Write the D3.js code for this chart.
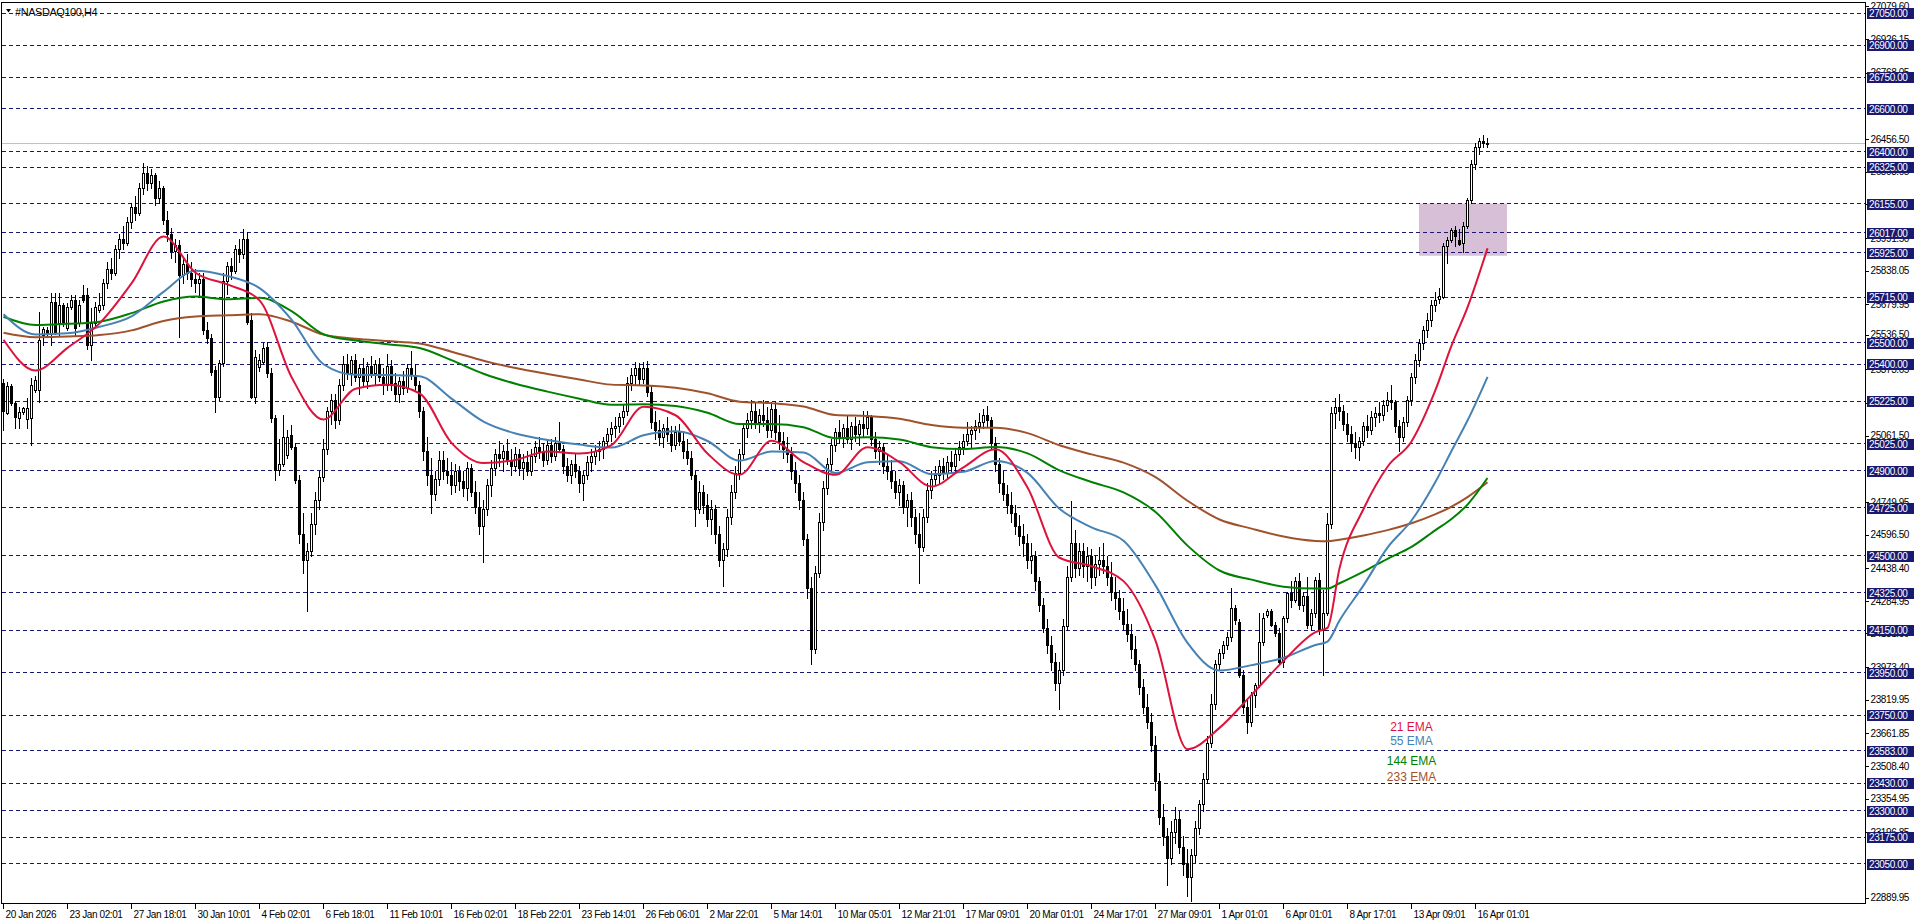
<!DOCTYPE html>
<html>
<head>
<meta charset="utf-8">
<title>#NASDAQ100,H4</title>
<script src="https://cdn.jsdelivr.net/npm/d3@7/dist/d3.min.js"></script>
<style>
html,body{margin:0;padding:0;background:#fff;overflow:hidden;}
svg{display:block;}
text{font-family:"Liberation Sans",Arial,sans-serif;}
</style>
</head>
<body>
<svg id="chart" width="1916" height="923"></svg>
<script>
// ---------------- DATA ----------------
const chartTitle = "#NASDAQ100,H4";

const opens = [
25310,25170,25298,25219,25146,25177,25141,25145,25280,25279,
25537,25560,25545,25691,25592,25678,25570,25668,25702,25592,
25725,25725,25490,25592,25655,25678,25780,25850,25830,25940,
25990,25970,26070,26140,26110,26230,26300,26250,26290,26180,
26230,26080,26010,25930,25960,25820,25870,25830,25800,25780,
25800,25561,25522,25373,25248,25404,25790,25860,25840,25940,
25920,25990,25608,25248,25385,25412,25483,25357,25146,24903,
24930,24975,25067,25012,24856,24600,24480,24520,24650,24760,
24870,25000,25180,25230,25140,25300,25400,25360,25420,25340,
25380,25320,25390,25360,25400,25340,25300,25390,25310,25260,
25320,25290,25380,25350,25300,25180,24990,24880,24790,24860,
24950,24900,24880,24830,24900,24850,24820,24910,24800,24730,
24640,24720,24830,24910,24980,24960,24990,24950,24920,24980,
24910,24940,24900,24970,25010,24990,24950,25020,24970,25030,
25000,24920,24880,24930,24900,24840,24880,24940,24970,24990,
25000,25040,25070,25100,25110,25150,25180,25310,25350,25380,
25330,25380,25270,25130,25090,25060,25100,25070,25020,25080,
25040,24990,24960,24880,24720,24800,24740,24670,24720,24600,
24480,24530,24680,24800,24890,24980,25100,25140,25180,25130,
25160,25140,25090,25190,25080,25040,25000,24980,24900,24840,
24760,24580,24350,24060,24420,24660,24820,24930,25020,25080,
25060,25100,25050,25110,25070,25120,25100,25150,25050,24990,
25010,24920,24900,24850,24800,24830,24730,24760,24680,24600,
24540,24680,24810,24860,24880,24920,24890,24940,24920,24980,
25010,25040,25070,25090,25110,25130,25160,25140,25030,24930,
24840,24790,24740,24700,24640,24590,24560,24480,24500,24380,
24270,24160,24080,24000,23900,23960,24170,24400,24560,24440,
24520,24450,24500,24400,24460,24480,24450,24400,24330,24300,
24240,24180,24130,24060,23990,23880,23790,23720,23610,23440,
23270,23180,23080,23200,23260,23130,23050,22990,23090,23220,
23330,23450,23620,23800,23990,24040,24080,24119,24252,24190,
23939,23790,23720,23845,23892,24096,24220,24240,24174,24135,
24000,24205,24323,24290,24380,24270,24310,24174,24230,24386,
24150,24230,24650,25170,25200,25180,25120,25070,25030,25010,
25040,25110,25090,25150,25170,25160,25210,25230,25220,25110,
25060,25130,25230,25340,25420,25500,25560,25610,25680,25705,
25718,25956,25984,26031,25984,25968,26050,26172,26340,26420,
26450,26440
];
const highs = [
25330,25318,25305,25225,25200,25200,25240,25334,25345,25647,
25577,25575,25733,25733,25733,25690,25686,25725,25725,25700,
25772,25760,25663,25694,25733,25800,25880,25900,25960,26010,
26050,26090,26160,26190,26250,26348,26330,26320,26300,26260,
26240,26120,26040,25990,25985,25900,25920,25880,25850,25830,
25830,25600,25540,25390,25420,25830,25880,25900,25960,25990,
26035,26020,25640,25467,25450,25500,25506,25380,25160,25050,
25161,25090,25114,25030,24880,24700,24560,24700,24800,24900,
25050,25200,25260,25260,25330,25440,25450,25440,25450,25400,
25430,25410,25440,25420,25430,25380,25450,25420,25360,25340,
25370,25400,25460,25400,25320,25200,25060,24960,24900,24990,
24990,24960,24940,24930,24920,24900,24940,24930,24850,24800,
24760,24860,24950,25000,25040,25020,25050,25000,25010,25000,
24980,24990,25000,25040,25060,25030,25040,25050,25060,25130,
25020,24960,24950,24980,24920,24900,24970,25000,25020,25040,
25060,25100,25130,25150,25170,25210,25340,25380,25410,25405,
25410,25415,25300,25180,25140,25120,25150,25110,25110,25120,
25080,25050,24990,24900,24850,24830,24790,24760,24740,24640,
24560,24720,24830,24920,25000,25120,25170,25230,25220,25190,
25230,25200,25220,25220,25160,25080,25060,25010,24940,24880,
24800,24600,24400,24450,24700,24850,24960,25050,25100,25140,
25120,25160,25130,25150,25140,25180,25180,25160,25080,25040,
25030,24980,24950,24900,24860,24850,24790,24800,24720,24700,
24720,24840,24900,24920,24950,24960,24970,24990,25000,25040,
25070,25130,25110,25140,25170,25190,25205,25150,25060,24960,
24900,24830,24800,24740,24690,24650,24600,24560,24520,24400,
24300,24200,24120,24040,24000,24200,24450,24757,24620,24560,
24560,24540,24530,24500,24540,24560,24500,24470,24400,24340,
24300,24250,24180,24120,24010,23920,23850,23760,23650,23480,
23330,23220,23250,23320,23300,23180,23120,23120,23250,23350,
23480,23650,23850,24010,24060,24100,24140,24347,24270,24200,
23960,23830,23860,23900,24230,24230,24250,24250,24190,24160,
24215,24330,24380,24400,24420,24330,24400,24250,24400,24420,
24340,24700,25200,25240,25260,25210,25170,25110,25080,25060,
25130,25160,25180,25200,25220,25230,25270,25300,25230,25140,
25150,25250,25360,25450,25520,25580,25640,25700,25740,25758,
25968,26000,26039,26050,26034,26069,26180,26360,26440,26465,
26480,26465
];
const lows = [
25090,25165,25210,25099,25099,25165,25100,25020,25270,25224,
25490,25530,25490,25540,25537,25580,25560,25660,25537,25580,
25694,25470,25420,25580,25647,25660,25760,25800,25820,25900,
25940,25960,26040,26080,26100,26200,26220,26230,26150,26160,
26060,25980,25900,25880,25530,25780,25800,25770,25740,25720,
25540,25500,25350,25177,25230,25390,25730,25800,25830,25880,
25900,25590,25240,25216,25370,25400,25340,25130,24856,24880,
24920,24960,25000,24840,24560,24420,24240,24500,24600,24720,
24850,24980,25120,25100,25120,25280,25330,25300,25320,25260,
25300,25290,25340,25300,25320,25260,25280,25280,25230,25220,
25260,25270,25330,25280,25150,24950,24830,24700,24760,24830,
24860,24840,24790,24800,24810,24780,24760,24780,24700,24600,
24470,24690,24780,24880,24920,24900,24930,24880,24900,24880,
24860,24880,24880,24940,24960,24920,24930,24940,24950,24990,
24890,24850,24840,24870,24800,24760,24860,24900,24930,24950,
24960,25010,25040,25060,25080,25120,25160,25280,25300,25300,
25310,25250,25100,25050,25020,25010,25040,24990,25000,25020,
24960,24930,24860,24640,24700,24700,24640,24600,24560,24450,
24355,24500,24650,24770,24860,24960,25060,25100,25100,25080,
25110,25060,25060,25050,25000,24960,24940,24860,24800,24720,
24550,24300,23990,24040,24400,24620,24790,24900,24990,25030,
25010,25030,25000,25040,25020,25060,25070,25020,24960,24930,
24890,24860,24820,24770,24740,24700,24640,24640,24560,24370,
24520,24660,24770,24830,24840,24860,24870,24890,24900,24950,
24980,25020,25010,25050,25080,25100,25110,25000,24900,24800,
24760,24700,24660,24600,24550,24500,24440,24420,24340,24240,
24140,24040,23960,23870,23780,23940,24150,24380,24400,24410,
24400,24380,24350,24360,24410,24420,24360,24290,24250,24200,
24150,24100,24020,23960,23850,23760,23690,23580,23400,23240,
23140,22950,23050,23150,23100,23000,22900,22875,23060,23190,
23300,23430,23600,23780,23960,24020,24060,24100,24180,23930,
23760,23665,23700,23790,23880,24080,24210,24170,24120,23990,
23975,24190,24260,24280,24250,24240,24160,24150,24210,24130,
23939,24220,24630,25100,25140,25090,25040,24990,24960,24950,
25020,25060,25070,25110,25130,25140,25180,25190,25080,24990,
25040,25110,25210,25310,25390,25470,25530,25580,25650,25690,
25710,25877,25976,25956,25960,25929,26040,26160,26320,26390,
26420,26420
];
const closes = [
25180,25298,25219,25150,25177,25192,25193,25300,25326,25514,
25564,25545,25691,25553,25678,25592,25668,25702,25569,25678,
25702,25490,25592,25671,25678,25780,25850,25830,25940,25990,
25970,26070,26140,26110,26230,26300,26250,26290,26180,26230,
26080,26010,25930,25960,25820,25870,25830,25800,25780,25800,
25561,25522,25365,25248,25404,25790,25860,25840,25940,25920,
25990,25600,25248,25436,25420,25475,25357,25146,24903,24930,
25060,25060,25012,24856,24600,24480,24520,24650,24760,24870,
25000,25180,25230,25140,25300,25400,25360,25420,25340,25380,
25320,25390,25360,25400,25340,25300,25390,25310,25260,25320,
25290,25380,25350,25300,25180,24990,24880,24790,24860,24950,
24900,24880,24830,24900,24850,24820,24910,24800,24730,24640,
24720,24830,24910,24980,24960,24990,24950,24920,24980,24910,
24940,24900,24970,25010,24990,24950,25020,24970,25030,25000,
24920,24880,24930,24900,24840,24880,24940,24970,24990,25000,
25040,25070,25100,25110,25150,25180,25310,25350,25380,25330,
25380,25270,25130,25090,25060,25100,25070,25020,25080,25040,
24990,24960,24880,24720,24800,24740,24670,24720,24600,24480,
24530,24680,24800,24890,24980,25100,25140,25180,25130,25160,
25140,25090,25190,25080,25040,25000,24980,24900,24840,24760,
24580,24350,24060,24420,24660,24820,24930,25020,25080,25060,
25100,25050,25110,25070,25120,25100,25150,25050,24990,25010,
24920,24900,24850,24800,24830,24730,24760,24680,24600,24540,
24680,24810,24860,24880,24920,24890,24940,24920,24980,25010,
25040,25070,25090,25110,25130,25160,25140,25030,24930,24840,
24790,24740,24700,24640,24590,24560,24480,24500,24380,24270,
24160,24080,24000,23900,23960,24170,24400,24560,24440,24520,
24450,24500,24400,24460,24480,24450,24400,24330,24300,24240,
24180,24130,24060,23990,23880,23790,23720,23610,23440,23270,
23180,23080,23200,23260,23130,23050,22990,23090,23220,23330,
23450,23620,23800,23990,24040,24080,24119,24252,24198,23939,
23790,23720,23845,23892,24096,24205,24240,24174,24135,24000,
24205,24323,24290,24380,24270,24310,24174,24230,24386,24150,
24230,24650,25170,25200,25180,25120,25070,25030,25010,25040,
25110,25090,25150,25170,25160,25210,25230,25220,25110,25060,
25130,25230,25340,25420,25500,25560,25610,25680,25700,25720,
25956,25984,26031,26003,25965,26050,26172,26340,26420,26450,
26440,26436
];

// bar index of each time-axis label, and its text
const xTickBars = [0,16,32,48,64,80,96,112,128,144,160,176,192,208,224,240,256,272,288,304,320,336,352,368];
const xLabels = ["20 Jan 2026","23 Jan 02:01","27 Jan 18:01","30 Jan 10:01","4 Feb 02:01","6 Feb 18:01",
  "11 Feb 10:01","16 Feb 02:01","18 Feb 22:01","23 Feb 14:01","26 Feb 06:01","2 Mar 22:01",
  "5 Mar 14:01","10 Mar 05:01","12 Mar 21:01","17 Mar 09:01","20 Mar 01:01","24 Mar 17:01",
  "27 Mar 09:01","1 Apr 01:01","6 Apr 01:01","8 Apr 17:01","13 Apr 09:01","16 Apr 01:01"];

// price-scale ticks (those visible in the reference)
const scaleTicks = [27079.60,26926.15,26768.05,26456.50,26303.05,26149.60,25991.50,25838.05,
  25679.95,25536.50,25373.05,25214.95,25061.50,24749.95,24596.50,24438.40,24284.95,24131.50,
  23973.40,23819.95,23661.85,23508.40,23354.95,23196.85,22889.95];

// horizontal levels (dashed lines with labels)
const levels = [27050,26900,26750,26600,26400,26325,26155,26017,25925,25715,25500,25400,25225,25025,
  24900,24725,24500,24325,24150,23950,23750,23583,23430,23300,23175,23050];

const bidPrice = 26436;
const zoneBars = [354, 376];
const zonePrices = [26155, 25910];

// EMA readings at sampled bars
const emaBars = [0,8,16,24,32,40,48,56,64,72,80,88,96,104,112,120,128,136,144,152,160,168,176,184,192,200,
  208,216,224,232,240,248,256,264,272,280,288,296,304,312,320,328,331,334,340,346,352,358,362,366,371];
const ema21 = [25515,25370,25477,25592,25780,26000,25830,25775,25700,25340,25140,25285,25303,25263,25030,
  24935,24950,24990,24980,25020,25200,25160,24980,24880,25040,24940,24880,25010,24940,24825,24915,25000,
  24820,24490,24450,24380,24100,23590,23690,23845,24005,24140,24160,24440,24719,24918,25037,25279,25487,
  25667,25945];
const ema55 = [25635,25540,25545,25576,25625,25740,25840,25815,25758,25610,25400,25350,25349,25343,25238,
  25130,25074,25044,25022,25008,25066,25085,25039,24946,24989,24985,24889,24939,24944,24883,24894,24945,
  24889,24720,24633,24570,24360,24090,23960,23985,24020,24080,24096,24195,24360,24538,24665,24847,24992,
  25135,25340];
const ema144 = [25623,25584,25590,25600,25640,25695,25718,25705,25712,25650,25541,25511,25494,25476,25419,
  25355,25308,25271,25238,25209,25212,25204,25172,25119,25119,25104,25052,25056,25046,25010,25001,25011,
  24981,24901,24846,24797,24705,24547,24430,24387,24354,24345,24345,24370,24425,24485,24541,24620,24672,
  24740,24865];
const ema233 = [25548,25527,25530,25537,25559,25603,25624,25630,25635,25600,25539,25520,25509,25497,25459,
  25416,25382,25354,25328,25304,25300,25289,25263,25224,25217,25201,25161,25156,25143,25114,25101,25101,
  25076,25019,24976,24937,24869,24758,24670,24627,24590,24569,24567,24575,24595,24620,24652,24695,24730,
  24775,24845];
const emaNames = ["21 EMA","55 EMA","144 EMA","233 EMA"];

// ---------------- CHART ----------------
const plot = {left: 2, top: 2, right: 1865, bottom: 903};
const svg = d3.select("#chart");
svg.append("rect").attr("width", 1916).attr("height", 923).attr("fill", "#fff");

const x = d3.scaleLinear().domain([0, 465]).range([3.5, 3.5 + 465 * 4]);
const y = d3.scaleLinear().domain([22866.6, 27103.1]).range([plot.bottom, plot.top]);
const snap = v => Math.floor(v) + 0.5;

svg.append("defs").append("clipPath").attr("id", "clip")
  .append("rect").attr("x", plot.left).attr("y", plot.top)
  .attr("width", plot.right - plot.left).attr("height", plot.bottom - plot.top);

const gPlot = svg.append("g").attr("clip-path", "url(#clip)");

// zone rectangle
gPlot.append("rect")
  .attr("x", x(zoneBars[0]) - 0.5)
  .attr("y", y(zonePrices[0]))
  .attr("width", x(zoneBars[1]) - x(zoneBars[0]))
  .attr("height", y(zonePrices[1]) - y(zonePrices[0]))
  .attr("fill", "#D8BFD8");

// dashed levels
gPlot.selectAll("line.level").data(levels).join("line")
  .attr("class", "level")
  .attr("x1", plot.left).attr("x2", plot.right)
  .attr("y1", d => snap(y(d))).attr("y2", d => snap(y(d)))
  .attr("stroke", "#191970").attr("stroke-width", 1)
  .attr("stroke-dasharray", "4,3");

// bid line
gPlot.append("line")
  .attr("x1", plot.left).attr("x2", plot.right)
  .attr("y1", snap(y(bidPrice))).attr("y2", snap(y(bidPrice)))
  .attr("stroke", "#C0C0C0").attr("stroke-width", 1);

// candles
const bars = d3.range(closes.length).map(i => ({i, o: opens[i], h: highs[i], l: lows[i], c: closes[i]}));
const gC = gPlot.append("g").attr("shape-rendering", "crispEdges");
gC.selectAll("line.wick").data(bars).join("line")
  .attr("class", "wick")
  .attr("x1", d => snap(x(d.i))).attr("x2", d => snap(x(d.i)))
  .attr("y1", d => Math.round(y(Math.max(d.h, d.o, d.c))))
  .attr("y2", d => Math.round(y(Math.min(d.l, d.o, d.c))) + 1)
  .attr("stroke", "#000").attr("stroke-width", 1);

gC.selectAll("rect.body").data(bars).join("rect")
  .attr("class", "body")
  .attr("x", d => snap(x(d.i)) - 1)
  .attr("y", d => Math.round(y(Math.max(d.o, d.c))) + 0.5)
  .attr("width", 2)
  .attr("height", d => Math.max(0, Math.round(y(Math.min(d.o, d.c))) - Math.round(y(Math.max(d.o, d.c)))))
  .attr("fill", d => d.c >= d.o ? "#fff" : "#000")
  .attr("stroke", "#000").attr("stroke-width", 1);

// EMA lines
const emaSets = [
  {vals: ema21, color: "#DC143C"},
  {vals: ema55, color: "#4682B4"},
  {vals: ema144, color: "#008000"},
  {vals: ema233, color: "#A0522D"}
];
const lineGen = d3.line().x(d => x(d[0])).y(d => y(d[1])).curve(d3.curveMonotoneX);
[3, 2, 1, 0].forEach(k => {
  const s = emaSets[k];
  gPlot.append("path")
    .datum(emaBars.map((b, j) => [b, s.vals[j]]))
    .attr("d", lineGen)
    .attr("fill", "none")
    .attr("stroke", s.color)
    .attr("stroke-width", 2)
    .attr("stroke-linejoin", "round");
});

// legend texts (chart text objects)
const legendBar = 352;
const legendPrices = [23694, 23628, 23534, 23459];
gPlot.selectAll("text.leg").data(emaNames).join("text")
  .attr("class", "leg")
  .attr("x", x(legendBar))
  .attr("y", (d, i) => y(legendPrices[i]))
  .attr("dy", "0.35em")
  .attr("text-anchor", "middle")
  .attr("font-size", 12)
  .attr("fill", (d, i) => emaSets[i].color)
  .text(d => d);

// frame
const frame = svg.append("g").attr("stroke", "#000").attr("stroke-width", 1).attr("shape-rendering", "crispEdges");
frame.append("line").attr("x1", 1.5).attr("x2", 1.5).attr("y1", 2).attr("y2", plot.bottom + 1);
frame.append("line").attr("x1", 1).attr("x2", plot.right + 1).attr("y1", 2.5).attr("y2", 2.5);
frame.append("line").attr("x1", plot.right + 0.5).attr("x2", plot.right + 0.5).attr("y1", 2).attr("y2", plot.bottom + 1);
frame.append("line").attr("x1", 1).attr("x2", plot.right + 1).attr("y1", plot.bottom + 0.5).attr("y2", plot.bottom + 0.5);

// right price axis
const yAxis = d3.axisRight(y).tickValues(scaleTicks).tickFormat(d3.format(".2f"))
  .tickSize(3).tickPadding(2).offset(0);
const gy = svg.append("g").attr("transform", `translate(${plot.right + 0.5},0)`).call(yAxis);
gy.select(".domain").remove();
gy.attr("font-family", "Liberation Sans, Arial, sans-serif");
gy.selectAll(".tick line").attr("stroke", "#000").attr("shape-rendering", "crispEdges");
gy.selectAll(".tick text").attr("font-size", 10).attr("letter-spacing", "-0.4px").attr("fill", "#000");

// bottom time axis
const xAxis = d3.axisBottom(x).tickValues(xTickBars).tickFormat((d, i) => xLabels[i])
  .tickSize(5).tickPadding(2).offset(0);
const gx = svg.append("g").attr("transform", `translate(0,${plot.bottom + 0.5})`).call(xAxis);
gx.select(".domain").remove();
gx.attr("font-family", "Liberation Sans, Arial, sans-serif");
gx.selectAll(".tick line").attr("stroke", "#000").attr("shape-rendering", "crispEdges");
gx.selectAll(".tick text").attr("text-anchor", "start").attr("x", 2).attr("y", 7)
  .attr("font-size", 10).attr("letter-spacing", "-0.4px").attr("fill", "#000");

// level labels on the price axis
const gl = svg.append("g");
gl.selectAll("rect").data(levels).join("rect")
  .attr("x", plot.right + 2).attr("y", d => Math.round(y(d)) - 5)
  .attr("width", 47).attr("height", 11)
  .attr("fill", "#191970");
gl.selectAll("text").data(levels).join("text")
  .attr("x", plot.right + 4).attr("y", d => Math.round(y(d)) + 4)
  .attr("font-size", 10).attr("letter-spacing", "-0.4px")
  .attr("fill", "#fff")
  .text(d => d3.format(".2f")(d));

// title
svg.append("path").attr("d", "M6,9 L11,9 L8.5,12.5 Z").attr("fill", "#000");
svg.append("text").attr("x", 15).attr("y", 15.5)
  .attr("font-size", 11).attr("letter-spacing", "-0.45px").attr("fill", "#000")
  .text(chartTitle);
</script>
</body>
</html>
